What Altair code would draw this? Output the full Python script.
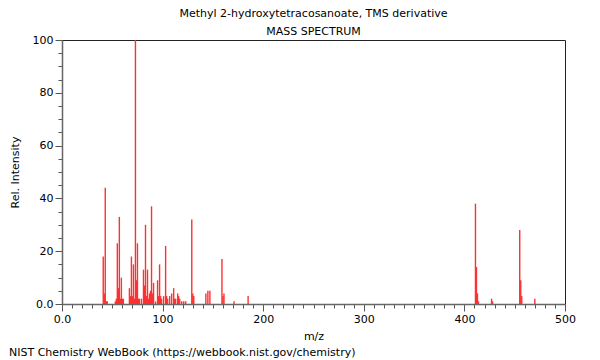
import altair as alt
import pandas as pd

title_line = "Methyl 2-hydroxytetracosanoate, TMS derivative"
subtitle_line = "MASS SPECTRUM"
footer = "NIST Chemistry WebBook (https://webbook.nist.gov/chemistry)"

mz = [41, 42, 43, 44, 45, 53, 54, 55, 56, 57, 58, 59, 60, 61,
      67, 68, 69, 70, 71, 72, 73, 74, 75, 76, 77, 79,
      81, 82, 83, 84, 85, 86, 87, 88, 89, 90, 91, 93,
      95, 96, 97, 98, 99, 101, 103, 104, 105, 107, 109, 111, 112, 113,
      115, 116, 117, 119, 121, 123, 129, 130, 131, 143, 145, 147,
      159, 160, 161, 171, 185, 411, 412, 413, 414, 427, 428,
      455, 456, 457, 470]
intensity = [18, 4, 44, 1, 1, 1, 2, 23, 6, 33, 2, 10, 2, 2,
             6, 3, 18, 3, 15, 2, 100, 9, 23, 2, 2, 2,
             13, 7, 30, 3, 13, 2, 4, 5, 37, 4, 8, 1,
             9, 3, 15, 3, 2, 3, 22, 3, 2, 3, 4, 6, 2, 2,
             4, 3, 2, 1, 1, 1, 32, 4, 3, 4, 5, 5,
             17, 3, 4, 1, 3, 38, 14, 4, 1, 2, 1,
             28, 9, 3, 2]

x_ticks = [0, 100, 200, 300, 400, 500]
y_ticks = [0, 20, 40, 60, 80, 100]

df = pd.DataFrame({"mz": mz, "intensity": intensity})

W, H = 503, 264
FONT = "DejaVu Sans"

bars = alt.Chart(df).mark_rule(color="#ff3030", strokeWidth=1.4).encode(
    x=alt.X("mz:Q",
            scale=alt.Scale(domain=[0, 500], nice=False, zero=False),
            axis=alt.Axis(
                title="m/z",
                values=list(range(0, 501, 10)),
                labelExpr="datum.value % 100 === 0 ? (datum.value === 0 ? '0.0' : datum.label) : ''",
                tickSize=alt.expr("datum.value % 100 === 0 ? 7 : 4"),
                labelPadding=2,
                titlePadding=6,
                labelFlush=False,
                labelOverlap=False,
            )),
    y=alt.Y("intensity:Q",
            scale=alt.Scale(domain=[0, 100], nice=False),
            axis=alt.Axis(
                title="Rel. Intensity",
                values=list(range(0, 101, 5)),
                labelExpr="datum.value % 20 === 0 ? (datum.value === 0 ? '0.0' : datum.label) : ''",
                tickSize=alt.expr("datum.value % 20 === 0 ? 7 : 4"),
                labelPadding=2,
                titlePadding=12,
                labelFlush=False,
                labelOverlap=False,
            )),
    y2=alt.datum(0),
)

foot = alt.Chart(pd.DataFrame({"t": [footer]})).mark_text(
    align="left", baseline="middle", font=FONT, fontSize=11, color="#000"
).encode(
    text="t:N",
    x=alt.value(-53),
    y=alt.value(H + 49),
)

chart = alt.layer(bars, foot).properties(
    width=W,
    height=H,
    autosize=alt.AutoSizeParams(type="none"),
    padding={"left": 54, "top": 32, "right": 27, "bottom": 56},
    title=alt.TitleParams(
        text=title_line,
        subtitle=subtitle_line,
        anchor="middle",
        frame="group",
        font=FONT,
        fontSize=11,
        fontWeight="normal",
        subtitleFont=FONT,
        subtitleFontSize=11,
        subtitleColor="#000",
        color="#000",
        subtitlePadding=7,
        offset=-3,
    ),
).configure_view(
    stroke="#222", strokeWidth=1
).configure_axis(
    grid=False,
    labelFont=FONT,
    labelFontSize=11,
    labelColor="#000",
    titleFont=FONT,
    titleFontSize=11,
    titleFontWeight="normal",
    titleColor="#000",
    domainColor="#666",
    domainWidth=1.5,
    tickColor="#555",
    tickWidth=1,
)

chart.save("out.html", embed_options={"renderer": "svg", "actions": False})
